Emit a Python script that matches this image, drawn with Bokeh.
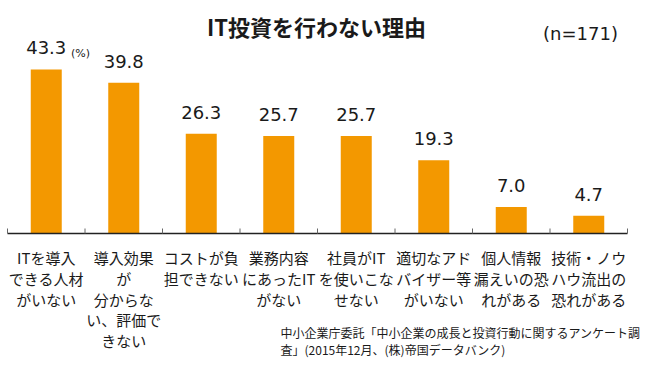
from bokeh.plotting import figure
from bokeh.models import Range1d, ColumnDataSource, LabelSet, Label
from bokeh.core.properties import value
from bokeh.embed import file_html
from bokeh.resources import INLINE

title = "IT投資を行わない理由"
sample_note = "(n=171)"
unit_note = "(%)"
categories = [
    "ITを導入\nできる人材\nがいない",
    "導入効果\nが\n分からな\nい、評価で\nきない",
    "コストが負\n担できない",
    "業務内容\nにあったIT\nがない",
    "社員がIT\nを使いこな\nせない",
    "適切なアド\nバイザー等\nがいない",
    "個人情報\n漏えいの恐\nれがある",
    "技術・ノウ\nハウ流出の\n恐れがある",
]
values = [43.3, 39.8, 26.3, 25.7, 25.7, 19.3, 7.0, 4.7]
source_note = ["中小企業庁委託「中小企業の成長と投資行動に関するアンケート調",
               "査」(2015年12月、(株)帝国データバンク)"]

W, H = 654, 365
PX_X = 77.5          # px per category
PX_Y = 3.79          # px per percentage point
AXIS_PAGE_X = 7
AXIS_PAGE_Y = 233

def dx(page_x):
    return (page_x - AXIS_PAGE_X) / PX_X

def dy(page_y):
    return (AXIS_PAGE_Y - page_y) / PX_Y

p = figure(width=W, height=H, output_backend="svg", toolbar_location=None,
           x_range=Range1d(dx(0), dx(W)),
           y_range=Range1d(dy(H), dy(0)),
           x_axis_type=None, y_axis_type=None, min_border=0)
p.grid.visible = False
p.outline_line_color = None
p.background_fill_color = "white"
p.border_fill_color = "white"

TXT = "#1a1a1a"
n = len(categories)
centers = [i + 0.5 for i in range(n)]
src = ColumnDataSource(dict(x=centers, top=values,
                            lab=["%.1f" % v for v in values]))

ORANGE = "#F39800"
p.vbar(x="x", top="top", width=0.4, source=src, fill_color=ORANGE, line_color=None)

# baseline and tick marks at category boundaries
bounds = list(range(n + 1))
p.segment(x0=[0], y0=[0], x1=[n], y1=[0], line_color="#222222", line_width=1.5)
p.segment(x0=bounds, y0=[0] * (n + 1), x1=bounds, y1=[5 / PX_Y] * (n + 1),
          line_color="#666666", line_width=1)

p.add_layout(LabelSet(x="x", y="top", text="lab", source=src, y_offset=15,
                      text_align="center", text_baseline="alphabetic",
                      text_font=value("DejaVu Sans"), text_font_size="18px",
                      text_color=TXT))

# category labels, one centred row per line
LINE_H = 20.8
lx, ly, lt, lo = [], [], [], []
for i, cat in enumerate(categories):
    for j, line in enumerate(cat.split("\n")):
        lx.append(centers[i]); ly.append(0); lt.append(line)
        lo.append(-(24 + j * LINE_H))
cat_src = ColumnDataSource(dict(x=lx, y=ly, t=lt, off=lo))
p.add_layout(LabelSet(x="x", y="y", text="t", source=cat_src, y_offset="off",
                      text_align="center", text_baseline="middle",
                      text_font=value("Noto Sans CJK JP"), text_font_size="15px",
                      text_color=TXT))

p.add_layout(Label(x=dx(316), y=dy(25), text=title, text_align="center",
                   text_baseline="middle", text_font="Noto Sans CJK JP",
                   text_font_size="22px", text_font_style="bold",
                   text_color=TXT))
p.add_layout(Label(x=dx(580), y=dy(33), text=sample_note, text_align="center",
                   text_baseline="middle", text_font="DejaVu Sans",
                   text_font_size="18px", text_color=TXT))
p.add_layout(Label(x=dx(80), y=dy(53), text=unit_note, text_align="center",
                   text_baseline="middle", text_font="DejaVu Sans",
                   text_font_size="11px", text_color=TXT))
for k, line in enumerate(source_note):
    p.add_layout(Label(x=dx(280), y=dy(332 + 17 * k), text=line, text_align="left",
                       text_baseline="middle", text_font="Noto Sans CJK JP",
                       text_font_size="12px", text_color=TXT))

open("out.html", "w").write(file_html(p, INLINE))
